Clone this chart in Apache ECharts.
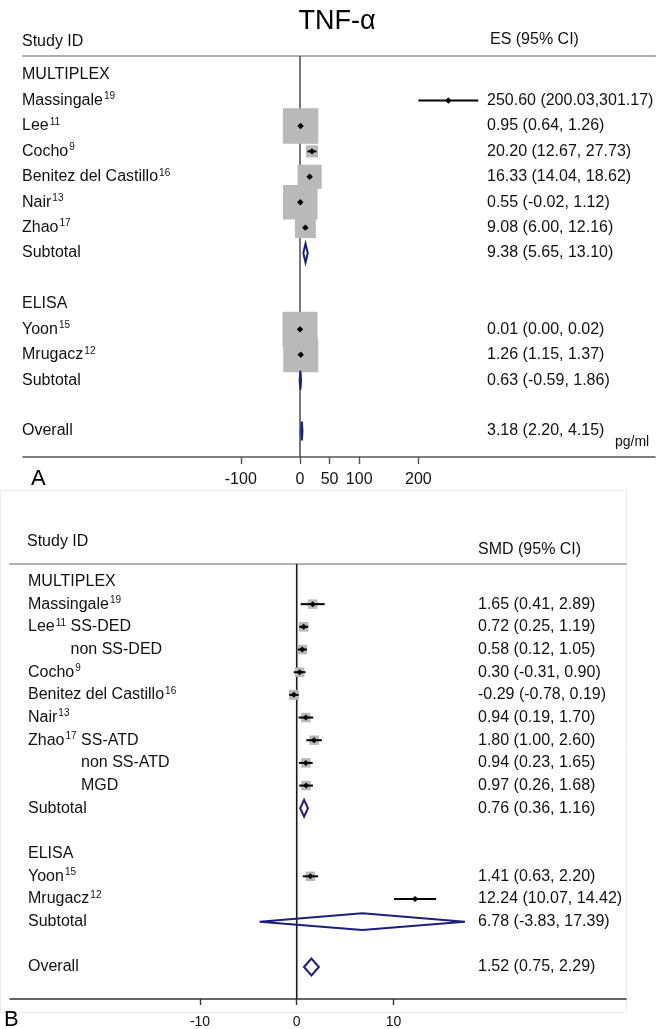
<!DOCTYPE html>
<html>
<head>
<meta charset="utf-8">
<title>Forest plots</title>
<script src="https://cdn.jsdelivr.net/npm/echarts@6/dist/echarts.min.js"></script>
<style>
  html, body { margin: 0; padding: 0; background: #ffffff; }
  #chart { width: 665px; height: 1029px; }
</style>
</head>
<body>
<div id="chart"></div>
<script>
// ---------- Panel A: TNF-α, effect size (pg/ml) with 95% CI ----------
const rowsA   = ['MULTIPLEX', 'Massingale', 'Lee', 'Cocho', 'Benitez del Castillo', 'Nair', 'Zhao', 'Subtotal', '', 'ELISA', 'Yoon', 'Mrugacz', 'Subtotal', '', 'Overall'];
const refsA   = ['', '19', '11', '9', '16', '13', '17', '', '', '', '15', '12', '', '', ''];
const kindA   = ['group', 'study', 'study', 'study', 'study', 'study', 'study', 'subtotal', 'blank', 'group', 'study', 'study', 'subtotal', 'blank', 'overall'];
const esA     = [null, 250.60, 0.95, 20.20, 16.33, 0.55, 9.08, 9.38, null, null, 0.01, 1.26, 0.63, null, 3.18];
const lowA    = [null, 200.03, 0.64, 12.67, 14.04, -0.02, 6.00, 5.65, null, null, 0.00, 1.15, -0.59, null, 2.20];
const highA   = [null, 301.17, 1.26, 27.73, 18.62, 1.12, 12.16, 13.10, null, null, 0.02, 1.37, 1.86, null, 4.15];
const weightA = [null, 0.05, 21.5, 2.5, 10, 20.5, 7.5, null, null, null, 21, 21, null, null, null];
const ticksA  = [-100, 0, 50, 100, 200];

// ---------- Panel B: standardised mean difference with 95% CI ----------
const rowsB     = ['MULTIPLEX', 'Massingale', 'Lee', '', 'Cocho', 'Benitez del Castillo', 'Nair', 'Zhao', '', '', 'Subtotal', '', 'ELISA', 'Yoon', 'Mrugacz', 'Subtotal', '', 'Overall'];
const refsB     = ['', '19', '11', '', '9', '16', '13', '17', '', '', '', '', '', '15', '12', '', '', ''];
const subgroupB = ['', '', 'SS-DED', 'non SS-DED', '', '', '', 'SS-ATD', 'non SS-ATD', 'MGD', '', '', '', '', '', '', '', ''];
const kindB     = ['group', 'study', 'study', 'study', 'study', 'study', 'study', 'study', 'study', 'study', 'subtotal', 'blank', 'group', 'study', 'study', 'subtotal', 'blank', 'overall'];
const esB       = [null, 1.65, 0.72, 0.58, 0.30, -0.29, 0.94, 1.80, 0.94, 0.97, 0.76, null, null, 1.41, 12.24, 6.78, null, 1.52];
const lowB      = [null, 0.41, 0.25, 0.12, -0.31, -0.78, 0.19, 1.00, 0.23, 0.26, 0.36, null, null, 0.63, 10.07, -3.83, null, 0.75];
const highB     = [null, 2.89, 1.19, 1.05, 0.90, 0.19, 1.70, 2.60, 1.65, 1.68, 1.16, null, null, 2.20, 14.42, 17.39, null, 2.29];
const weightB   = [null, 9, 9, 9, 9, 10, 9, 9, 9, 9, null, null, null, 9, 2, null, null, null];
const ticksB    = [-10, 0, 10];

const FONT = "'Liberation Sans', Arial, Helvetica, sans-serif";
const TEXT = '#111111';
const BOX = '#b9b9b9';
const NAVY = '#1b1f7e';

const panelA = {
  rows: rowsA, refs: refsA, sub: rowsA.map(() => ''), kind: kindA,
  es: esA, low: lowA, high: highA, weight: weightA,
  labelX: 22, valueX: 487, fontSize: 16, supSize: 10,
  boxScale: 7.64, dot: 3.2, ciWidth: 2, diamondHalf: 9.5,
  yMin: -0.75, yMax: 15.02
};
const panelB = {
  rows: rowsB, refs: refsB, sub: subgroupB, kind: kindB,
  es: esB, low: lowB, high: highB, weight: weightB,
  labelX: 28, valueX: 478, fontSize: 16, supSize: 10,
  boxScale: 3.17, dot: 3, ciWidth: 2, diamondHalf: 8.4,
  yMin: -0.77, yMax: 18.41
};

function fmt(v) { return v.toFixed(2); }

function ciText(p, i) {
  const sep = p.high[i] >= 100 ? ',' : ', ';
  return fmt(p.es[i]) + ' (' + fmt(p.low[i]) + sep + fmt(p.high[i]) + ')';
}

function richStyles(p) {
  const base = { fontSize: p.fontSize, fontFamily: FONT, fill: TEXT, lineHeight: p.fontSize + 2, verticalAlign: 'middle' };
  const sup = { fontSize: p.supSize, fontFamily: FONT, fill: TEXT, lineHeight: p.supSize + 1, verticalAlign: 'top', padding: [0, 0, 0, 1] };
  return {
    n: base,
    s: sup,
    h: Object.assign({}, base, { fill: 'rgba(0,0,0,0)' }),
    hs: Object.assign({}, sup, { fill: 'rgba(0,0,0,0)' })
  };
}

// Left-column label: name, reference superscript, optional subgroup.
// Continuation rows repeat the parent study invisibly so the subgroup lines up.
function labelText(p, i) {
  const name = p.rows[i], ref = p.refs[i], sub = p.sub[i];
  if (name) {
    let t = '{n|' + name + '}';
    if (ref) t += '{s|' + ref + '}';
    if (sub) t += '{n| ' + sub + '}';
    return t;
  }
  if (sub) {
    let k = i - 1;
    while (k >= 0 && !p.rows[k]) k--;
    let t = '{h|' + p.rows[k] + '}';
    if (p.refs[k]) t += '{hs|' + p.refs[k] + '}';
    return t + '{h| }{n|' + sub + '}';
  }
  return '';
}

function makeRender(p) {
  const rich = richStyles(p);
  return function (params, api) {
    const i = params.dataIndex;
    const y = api.coord([0, i])[1];
    const kids = [];
    const lbl = labelText(p, i);
    if (lbl) {
      kids.push({
        type: 'text', x: p.labelX, y: y,
        style: { text: lbl, rich: rich, fill: TEXT, fontSize: p.fontSize, fontFamily: FONT,
                 align: 'left', verticalAlign: 'middle' }
      });
    }
    const kind = p.kind[i];
    if (kind === 'study') {
      const c = api.coord([p.es[i], i]);
      const lo = api.coord([p.low[i], i]);
      const hi = api.coord([p.high[i], i]);
      const s = p.boxScale * Math.sqrt(p.weight[i]);
      kids.push({ type: 'rect', shape: { x: c[0] - s / 2, y: y - s / 2, width: s, height: s },
                  style: { fill: BOX } });
      kids.push({ type: 'line', shape: { x1: lo[0], y1: y, x2: hi[0], y2: y },
                  style: { stroke: '#000', lineWidth: p.ciWidth } });
      const m = p.dot;
      kids.push({ type: 'polygon',
                  shape: { points: [[c[0] - m, y], [c[0], y - m], [c[0] + m, y], [c[0], y + m]] },
                  style: { fill: '#000' } });
    } else if (kind === 'subtotal' || kind === 'overall') {
      const c = api.coord([p.es[i], i]);
      const lo = api.coord([p.low[i], i]);
      const hi = api.coord([p.high[i], i]);
      const h = p.diamondHalf;
      kids.push({ type: 'polygon',
                  shape: { points: [[lo[0], y], [c[0], y - h], [hi[0], y], [c[0], y + h]] },
                  style: { fill: 'none', stroke: NAVY, lineWidth: 2, lineJoin: 'miter' } });
    }
    if (p.es[i] != null) {
      kids.push({
        type: 'text', x: p.valueX, y: y,
        style: { text: ciText(p, i), fill: TEXT, fontSize: p.fontSize, fontFamily: FONT,
                 align: 'left', verticalAlign: 'middle' }
      });
    }
    return { type: 'group', children: kids };
  };
}

function rowData(p) { return p.rows.map((_, i) => [p.es[i] == null ? 0 : p.es[i], i]); }

const chart = echarts.init(document.getElementById('chart'), null, { renderer: 'canvas' });

const xMinA = -467.9, xMaxA = 599.7;
const xMinB = -29.65, xMaxB = 34.05;

chart.setOption({
  animation: false,
  backgroundColor: '#ffffff',
  grid: [
    { left: 23, top: 56, width: 632, height: 401 },
    { left: 10, top: 564, width: 616, height: 435 }
  ],
  xAxis: [
    { gridIndex: 0, type: 'value', min: xMinA, max: xMaxA, position: 'bottom',
      axisLine: { onZero: false, lineStyle: { color: '#555555', width: 1.6 } },
      axisTick: { customValues: ticksA, length: 7, lineStyle: { color: '#555555', width: 1.4 } },
      axisLabel: { customValues: ticksA, color: TEXT, fontSize: 16, fontFamily: FONT, margin: 15 },
      splitLine: { show: false } },
    { gridIndex: 0, type: 'value', min: xMinA, max: xMaxA, position: 'top',
      axisLine: { onZero: false, lineStyle: { color: '#ababab', width: 2 } },
      axisTick: { show: false }, axisLabel: { show: false }, splitLine: { show: false } },
    { gridIndex: 1, type: 'value', min: xMinB, max: xMaxB, position: 'bottom',
      axisLine: { onZero: false, lineStyle: { color: '#333333', width: 1.6 } },
      axisTick: { customValues: ticksB, length: 6, lineStyle: { color: '#333333', width: 1.4 } },
      axisLabel: { customValues: ticksB, color: TEXT, fontSize: 14, fontFamily: FONT, margin: 16 },
      splitLine: { show: false } },
    { gridIndex: 1, type: 'value', min: xMinB, max: xMaxB, position: 'top',
      axisLine: { onZero: false, lineStyle: { color: '#b0b0b0', width: 2 } },
      axisTick: { show: false }, axisLabel: { show: false }, splitLine: { show: false } }
  ],
  yAxis: [
    { gridIndex: 0, type: 'value', inverse: true, min: panelA.yMin, max: panelA.yMax, show: false },
    { gridIndex: 1, type: 'value', inverse: true, min: panelB.yMin, max: panelB.yMax, show: false }
  ],
  series: [
    { type: 'line', xAxisIndex: 0, yAxisIndex: 0, z: 1, silent: true, symbol: 'none',
      data: [[0, panelA.yMin], [0, panelA.yMax]],
      lineStyle: { color: '#555555', width: 1.6 } },
    { type: 'line', xAxisIndex: 2, yAxisIndex: 1, z: 1, silent: true, symbol: 'none',
      data: [[0, panelB.yMin], [0, panelB.yMax]],
      lineStyle: { color: '#1a1a1a', width: 1.6 } },
    { type: 'custom', xAxisIndex: 0, yAxisIndex: 0, z: 2, clip: false, silent: true,
      renderItem: makeRender(panelA), data: rowData(panelA), encode: { x: 0, y: 1 } },
    { type: 'custom', xAxisIndex: 2, yAxisIndex: 1, z: 2, clip: false, silent: true,
      renderItem: makeRender(panelB), data: rowData(panelB), encode: { x: 0, y: 1 } }
  ],
  graphic: [
    { type: 'rect', silent: true, z: -10,
      shape: { x: 0.5, y: 490.5, width: 626, height: 522 },
      style: { fill: 'none', stroke: '#ededed', lineWidth: 1 } },
    { type: 'text', x: 337, y: 22, silent: true,
      style: { text: 'TNF-α', fontSize: 27, fontFamily: FONT, fill: '#000', align: 'center', verticalAlign: 'middle' } },
    { type: 'text', x: 22, y: 42, silent: true,
      style: { text: 'Study ID', fontSize: 16, fontFamily: FONT, fill: TEXT, verticalAlign: 'middle' } },
    { type: 'text', x: 490, y: 40, silent: true,
      style: { text: 'ES (95% CI)', fontSize: 16, fontFamily: FONT, fill: TEXT, verticalAlign: 'middle' } },
    { type: 'text', x: 615, y: 442, silent: true,
      style: { text: 'pg/ml', fontSize: 14, fontFamily: FONT, fill: TEXT, verticalAlign: 'middle' } },
    { type: 'text', x: 31, y: 479, silent: true,
      style: { text: 'A', fontSize: 22, fontFamily: FONT, fill: '#000', verticalAlign: 'middle' } },
    { type: 'text', x: 27, y: 542, silent: true,
      style: { text: 'Study ID', fontSize: 16, fontFamily: FONT, fill: TEXT, verticalAlign: 'middle' } },
    { type: 'text', x: 478, y: 550, silent: true,
      style: { text: 'SMD (95% CI)', fontSize: 16, fontFamily: FONT, fill: TEXT, verticalAlign: 'middle' } },
    { type: 'text', x: 4, y: 1020, silent: true,
      style: { text: 'B', fontSize: 22, fontFamily: FONT, fill: '#000', verticalAlign: 'middle' } }
  ]
});
</script>
</body>
</html>
